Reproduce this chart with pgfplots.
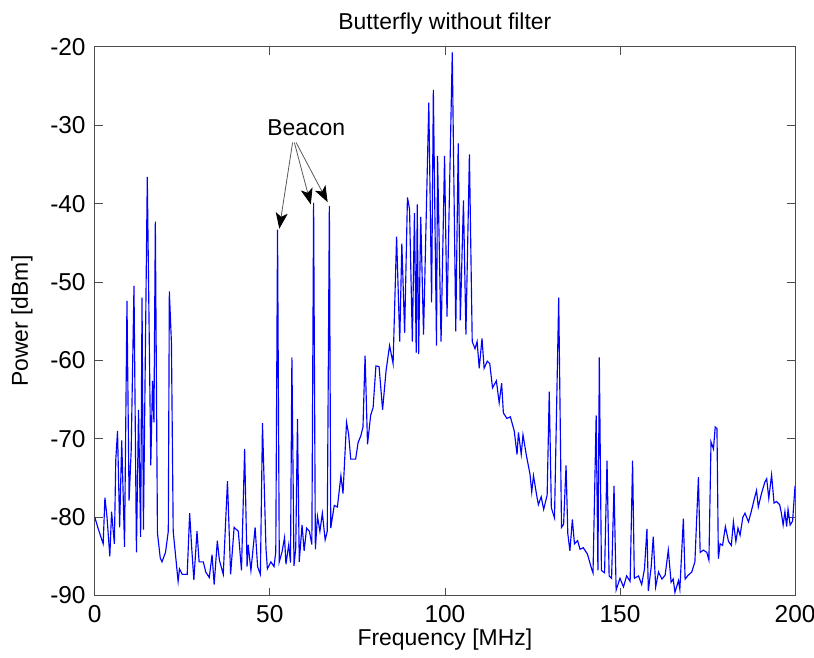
\documentclass[border=0pt]{standalone}
\usepackage{fontspec}
\setmainfont{Liberation Sans}
\usepackage{pgfplots}
\pgfplotsset{compat=1.18}
\usetikzlibrary{arrows.meta}
\begin{document}
\fontsize{23bp}{27bp}\selectfont
\begin{tikzpicture}
\path[use as bounding box] (-95bp,-62bp) rectangle (721bp,597bp);
\begin{axis}[
  at={(0,0)}, anchor=south west,
  scale only axis, width=702bp, height=550bp,
  xmin=0, xmax=200, ymin=-90, ymax=-20,
  xtick={0,50,100,150,200},
  ytick={-90,-80,-70,-60,-50,-40,-30,-20},
  /pgf/number format/assume math mode=true,
  axis line style={black!70, line width=0.8bp},
  every tick/.style={black!70, line width=0.8bp},
  major tick length=8bp,
  tick align=inside,
  tick label style={font=\fontsize{24.5bp}{28bp}\selectfont},
  xticklabel style={anchor=north, inner sep=0pt, yshift=-10bp},
  yticklabel style={anchor=east, inner sep=0pt, xshift=-9bp},
  title={Butterfly without filter},
  title style={at={(axis description cs:0.5,1.031)}, anchor=center, inner sep=0pt},
  xlabel={Frequency [MHz]},
  xlabel style={at={(axis description cs:0.5,-0.081)}, anchor=center, inner sep=0pt},
  ylabel={Power [dBm]},
  ylabel style={at={(axis description cs:-0.104,0.5)}, anchor=center, inner sep=0pt},
  clip=true,
]
\addplot[blue, line width=1.15bp] table {
x y
0 -80
1 -81.5
2.4 -83.4
2.9 -77.5
3.5 -80
4.3 -85
4.8 -79.3
5.6 -83.4
6.0 -72.7
6.5 -69
7.1 -81.3
7.7 -70.2
8.5 -83.8
9.2 -52.4
9.8 -77.9
10.4 -71.5
11.2 -50.5
11.9 -84.5
12.5 -66.3
13.1 -82.5
13.5 -52
13.9 -81.6
15.0 -36.6
16.0 -73.4
16.5 -62.6
16.9 -67.9
17.3 -42.3
17.9 -82
18.7 -85.2
19.2 -85.7
20.2 -84.5
21.0 -81.8
21.3 -51.2
21.9 -57.8
22.4 -81.8
23.1 -85
23.8 -88.2
24.2 -86.6
25 -87.3
26.4 -87.3
27.1 -79.5
27.7 -84
28.3 -88
29.2 -81.8
29.8 -85.7
31 -85.7
31.7 -87
32.7 -87.7
33.5 -84.8
34.1 -88.6
35 -83
35.6 -85.5
36.7 -87.3
37.9 -75.4
38.8 -87.3
39.8 -81.3
41 -81.8
41.9 -86.8
42.8 -71.3
43.5 -86.3
43.8 -83.5
44.6 -86.8
45 -85
45.8 -81.3
46.5 -86.3
47.3 -87.3
47.9 -68
48.9 -84
49.3 -86.6
50.3 -85.7
51.2 -86.3
51.7 -84.4
52.2 -43.3
52.7 -85.7
53.5 -84.4
54.2 -82.6
54.6 -86
55.4 -83.5
55.9 -85.8
56.3 -59.6
56.9 -86.2
57.4 -83.9
57.9 -67.5
58.4 -85.7
59.2 -81
59.8 -84.3
60.5 -81.4
61.3 -81.8
62 -83.5
62.5 -39.9
63 -84.1
63.6 -79.9
64.3 -81.8
65 -79.5
65.8 -82.9
66.4 -81.8
67 -40.3
67.4 -81.4
68.4 -78.5
69.3 -78.7
70.3 -74.7
70.9 -77
71.9 -67.9
72.5 -69.4
73.1 -72.6
74.5 -72.6
75.2 -70.5
76 -69.6
76.6 -68.5
77.2 -59.4
77.9 -70.7
78.8 -67
79.5 -66
80.3 -60.7
81.2 -60.8
82.2 -66.3
83.2 -61.3
84.2 -58.1
85.2 -60.4
86.2 -44.2
87.1 -57.6
87.7 -45.1
88.5 -56.5
89.3 -39.2
89.9 -40.7
90.7 -57.6
91.3 -41.2
91.8 -59
92.1 -40.1
92.5 -59.2
93.1 -41.7
93.9 -56.7
95.4 -27.1
96.2 -52.6
96.7 -25.5
97.6 -58.1
97.9 -33.9
98.9 -57.6
99.9 -33.9
100.6 -54.4
102.1 -20.7
103.1 -56.3
103.8 -32.3
104.4 -54.9
105.3 -39.6
106 -56.7
107 -33.7
107.8 -57.6
108.6 -58.5
109.2 -57.6
109.8 -61
110.6 -57.2
111.2 -61
112.1 -60.1
112.8 -60.4
113.6 -63.5
114.7 -62.6
115.5 -65.4
116.2 -62.9
116.7 -66.7
117.7 -67.4
118.7 -67.2
119.8 -69
120.6 -72
121 -69.2
121.8 -72
122.3 -69.5
123.3 -72.2
124.3 -74.5
124.8 -76.8
125.3 -74.7
126.2 -77.2
126.7 -78.4
127.5 -77.4
128.2 -79
129.2 -77.2
129.8 -64
130.4 -78.8
131.3 -80.1
132.5 -52
133.3 -81.3
133.9 -80.9
134.6 -73.4
135.1 -82.1
135.7 -84.3
136.4 -80.3
137 -83.4
137.9 -83
138.6 -84.1
139.5 -83.9
140.7 -84.7
141.9 -86.6
142.3 -87.1
143.2 -67
143.7 -86.8
144.1 -59.6
144.7 -86.8
145.6 -87.1
146.3 -72.8
146.9 -87.5
147.6 -87.8
148.3 -76
148.9 -89.3
150 -87.8
151 -88.9
151.9 -87.5
152.9 -88.2
153.6 -72.8
154.1 -87.8
155.3 -87.5
156.2 -88.6
157 -86.6
157.7 -81.5
158.1 -89.4
158.9 -86.4
159.5 -82.5
160.2 -88.9
161 -87
162 -87.9
162.9 -87.4
163.8 -84.2
164.6 -88.3
165.2 -87.9
165.7 -89.6
166.7 -88.1
167.1 -89.2
168.1 -80.2
168.6 -87.9
169.5 -87.4
170.5 -87
171.4 -85.7
172.4 -74.9
172.9 -84.5
173.8 -84.2
174.8 -84.5
175.4 -85.5
176 -70.4
176.7 -71.3
177.2 -68.5
177.7 -68.7
178.1 -85.3
178.6 -83.4
179.3 -83.6
180.1 -81.2
181 -83.1
181.8 -83.6
182.4 -80.6
183.1 -83.1
183.7 -81.4
184.3 -82.3
185.1 -80
185.7 -79.5
186.7 -80.6
187.6 -79.1
188.4 -77.6
189 -76.6
189.5 -78.7
190.4 -77
191.4 -75.5
191.9 -75.1
192.5 -77.6
193.3 -74.6
194 -78.2
194.7 -78
195.6 -78.4
196.1 -79.5
196.6 -81
197.1 -79.3
197.6 -81.2
198 -79
198.6 -81
199.3 -80.5
200 -76
};
\node[anchor=center, inner sep=0pt] at (axis cs:60.4,-30.3) {Beacon};
\draw[black!65, line width=0.8bp, -{Stealth[length=16bp,width=12bp,inset=4bp,black]}] (axis cs:56.5,-32.2) -- (axis cs:52.7,-43.2);
\draw[black!65, line width=0.8bp, -{Stealth[length=16bp,width=12bp,inset=4bp,black]}] (axis cs:57.0,-32.2) -- (axis cs:61.7,-40.1);
\draw[black!65, line width=0.8bp, -{Stealth[length=16bp,width=12bp,inset=4bp,black]}] (axis cs:57.5,-32.2) -- (axis cs:66.5,-39.8);
\end{axis}
\end{tikzpicture}
\end{document}
